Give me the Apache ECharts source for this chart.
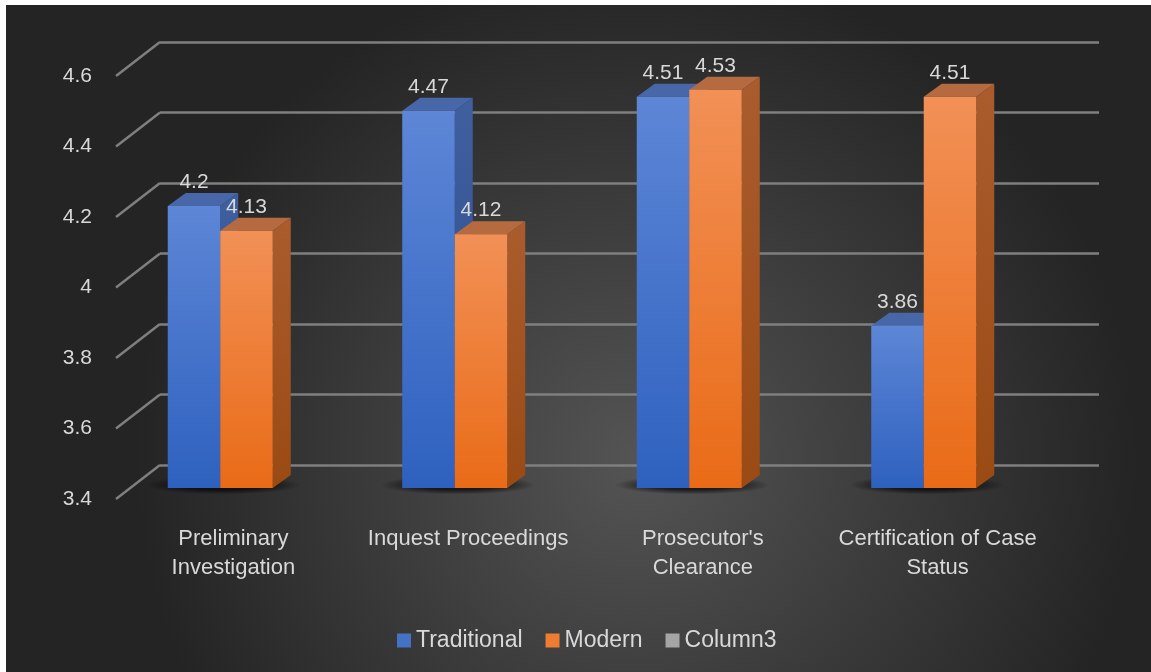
<!DOCTYPE html>
<html>
<head>
<meta charset="utf-8">
<script src="https://cdn.jsdelivr.net/npm/echarts@6/dist/echarts.min.js"></script>
<style>
  html, body { margin: 0; padding: 0; background: #ffffff; }
  #chart { width: 1151px; height: 672px; }
</style>
</head>
<body>
<div id="chart"></div>
<script>
// Categories and values
const categories = ['Preliminary\nInvestigation', 'Inquest Proceedings', "Prosecutor's\nClearance", 'Certification of Case\nStatus'];
const traditional = [4.2, 4.47, 4.51, 3.86];
const modern = [4.13, 4.12, 4.53, 4.51];
const yTicks = [3.4, 3.6, 3.8, 4.0, 4.2, 4.4, 4.6];
const seriesNames = ['Traditional', 'Modern', 'Column3'];

const Y_MIN = 3.4, Y_MAX = 4.6, Y_STEP = 0.2;
const DEPTH_X = 18, DEPTH_Y = 13;      // extrusion of each box
const FLOOR_X = 44, FLOOR_Y = 34;      // depth of the floor (back wall -> front edge)
const BAR_FRAC = 52.5 / 234.5;         // width of one bar as a share of the category band
const TEXT = '#d9d9d9';
const FONT = 'Liberation Sans';

const chart = echarts.init(document.getElementById('chart'));
const G = echarts.graphic;

const looks = [
  {
    front: new G.LinearGradient(0, 0, 0, 1, [{ offset: 0, color: '#5d86d6' }, { offset: 1, color: '#2e61bf' }]),
    side: new G.LinearGradient(0, 0, 0, 1, [{ offset: 0, color: '#3f5f9f' }, { offset: 1, color: '#2a4b8c' }]),
    top: '#4767a8'
  },
  {
    front: new G.LinearGradient(0, 0, 0, 1, [{ offset: 0, color: '#f29056' }, { offset: 1, color: '#e96b17' }]),
    side: new G.LinearGradient(0, 0, 0, 1, [{ offset: 0, color: '#aa5c2e' }, { offset: 1, color: '#9a4a13' }]),
    top: '#b56b3f'
  }
];

const floorShadow = new G.RadialGradient(0.5, 0.5, 0.5, [
  { offset: 0, color: 'rgba(0,0,0,0.85)' },
  { offset: 0.55, color: 'rgba(0,0,0,0.6)' },
  { offset: 1, color: 'rgba(0,0,0,0)' }
]);

// One extruded box per data point; side 0 sits left of the band centre, side 1 right of it
function boxRenderer(side) {
  return function (params, api) {
    const i = api.value(0), v = api.value(1);
    const top = api.coord([i, v]);
    const base = api.coord([i, Y_MIN]);
    const bw = api.size([1, 0])[0] * BAR_FRAC;
    const x0 = side === 0 ? top[0] - bw : top[0];
    const x1 = x0 + bw;
    const look = looks[side];
    const children = [];
    if (side === 0) {
      // soft elliptical shadow on the floor under the pair of boxes
      const left = x0 - 22, right = x1 + bw + DEPTH_X + 10;
      const r = 10;
      children.push({
        type: 'circle',
        shape: { cx: 0, cy: 0, r: r },
        x: (left + right) / 2,
        y: base[1] - 3,
        scaleX: (right - left) / (2 * r),
        scaleY: 0.95,
        style: { fill: floorShadow },
        silent: true
      });
    }
    children.push(
      {
        type: 'polygon',
        shape: { points: [[x1, top[1]], [x1 + DEPTH_X, top[1] - DEPTH_Y], [x1 + DEPTH_X, base[1] - DEPTH_Y], [x1, base[1]]] },
        style: { fill: look.side }
      },
      {
        type: 'polygon',
        shape: { points: [[x0, top[1]], [x0 + DEPTH_X, top[1] - DEPTH_Y], [x1 + DEPTH_X, top[1] - DEPTH_Y], [x1, top[1]]] },
        style: { fill: look.top }
      },
      {
        type: 'rect',
        shape: { x: x0, y: top[1], width: bw, height: base[1] - top[1] },
        style: { fill: look.front }
      },
      {
        type: 'text',
        x: x0 + bw / 2,
        y: top[1] - DEPTH_Y,
        style: {
          text: String(v),
          fill: TEXT,
          font: '21px "' + FONT + '"',
          align: 'center',
          verticalAlign: 'bottom'
        },
        z2: 100
      }
    );
    return { type: 'group', children: children };
  };
}

// Short slanted strokes joining each gridline on the back wall to its label at the front
function stubRenderer(params, api) {
  const p = api.coord([0, api.value(1)]);
  const x = params.coordSys.x;
  return {
    type: 'line',
    shape: { x1: x, y1: p[1], x2: x - FLOOR_X, y2: p[1] + FLOOR_Y },
    style: { stroke: '#7f7f7f', lineWidth: 2.5 }
  };
}

const hiddenCat = { type: 'category', data: categories, show: false };
const hiddenVal = { type: 'value', min: Y_MIN, max: Y_MAX, interval: Y_STEP, show: false, splitLine: { show: false } };

chart.setOption({
  animation: false,
  backgroundColor: 'transparent',
  textStyle: { fontFamily: FONT },
  graphic: [{
    type: 'rect',
    z: -100,
    silent: true,
    shape: { x: 6, y: 5, width: 1145, height: 667 },
    style: {
      fill: new G.RadialGradient(0.55, 0.68, 0.75, [
        { offset: 0, color: '#545454' },
        { offset: 1, color: '#242424' }
      ])
    }
  }],
  legend: {
    data: seriesNames,
    left: 392,
    top: 624,
    icon: 'rect',
    itemWidth: 14,
    itemHeight: 14,
    itemGap: 23,
    textStyle: { color: TEXT, fontSize: 23, fontFamily: FONT }
  },
  grid: [
    // back wall: gridlines
    { left: 160, right: 52, top: 42, bottom: 207 },
    // front edge of the floor: axis labels
    { left: 116, right: 96, top: 76, bottom: 173 },
    // front faces of the boxes
    { left: 103, right: 110, top: 65, bottom: 184 }
  ],
  xAxis: [
    Object.assign({ gridIndex: 0 }, hiddenCat),
    {
      gridIndex: 1, type: 'category', data: categories,
      axisLine: { show: false }, axisTick: { show: false },
      axisLabel: { color: TEXT, fontSize: 22, lineHeight: 29, margin: 25, fontFamily: FONT, interval: 0 }
    },
    Object.assign({ gridIndex: 2 }, hiddenCat)
  ],
  yAxis: [
    {
      gridIndex: 0, type: 'value', min: Y_MIN, max: Y_MAX, interval: Y_STEP,
      axisLabel: { show: false }, axisLine: { show: false }, axisTick: { show: false },
      splitLine: { lineStyle: { color: '#7f7f7f', width: 2.5 } }
    },
    {
      gridIndex: 1, type: 'value', min: Y_MIN, max: Y_MAX, interval: Y_STEP,
      axisLine: { show: false }, axisTick: { show: false }, splitLine: { show: false },
      axisLabel: { color: TEXT, fontSize: 21, margin: 24, fontFamily: FONT }
    },
    Object.assign({ gridIndex: 2 }, hiddenVal)
  ],
  series: [
    {
      name: 'gridline-stubs', type: 'custom', xAxisIndex: 0, yAxisIndex: 0,
      silent: true, renderItem: stubRenderer,
      data: yTicks.map(t => [0, t])
    },
    {
      name: seriesNames[0], type: 'custom', xAxisIndex: 2, yAxisIndex: 2,
      itemStyle: { color: '#4472c4' },
      renderItem: boxRenderer(0),
      data: traditional.map((v, i) => [i, v])
    },
    {
      name: seriesNames[1], type: 'custom', xAxisIndex: 2, yAxisIndex: 2,
      itemStyle: { color: '#ed7d31' },
      renderItem: boxRenderer(1),
      data: modern.map((v, i) => [i, v])
    },
    {
      name: seriesNames[2], type: 'bar', xAxisIndex: 2, yAxisIndex: 2,
      itemStyle: { color: '#a5a5a5' },
      data: []
    }
  ]
});
</script>
</body>
</html>
